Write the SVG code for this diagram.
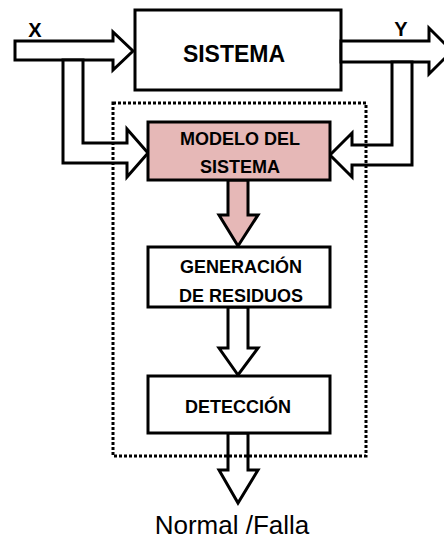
<svg xmlns="http://www.w3.org/2000/svg" width="444" height="539" viewBox="0 0 444 539">
<style>
.box{fill:#fff;stroke:#000;stroke-width:3}
.pink{fill:#E6B8B7}
.arr{fill:#fff;stroke:#000;stroke-width:3;stroke-linejoin:miter}
.parr{fill:#E6B8B7;stroke:#000;stroke-width:3;stroke-linejoin:miter}
.t{font-family:"Liberation Sans",Arial,sans-serif;font-weight:bold;fill:#000;text-anchor:middle}
.dot{fill:none;stroke:#000;stroke-width:3;stroke-dasharray:3,2}
</style>
<rect width="444" height="539" fill="#fff"/>
<g id="sistema">
<rect class="box" x="135" y="10" width="206" height="80"/>
<text class="t" x="234" y="62" font-size="23">SISTEMA</text>
</g>
<g id="connectors">
<polygon class="arr" points="15,41 113,41 113,32 133,51 113,70 113,60 15,60"/>
<polygon class="arr" points="63,60 63,163 127,163 127,177 148,153 127,129 127,143 83,143 83,60"/>
<polygon class="arr" points="341,41 429,41 429,28 452,51 429,74 429,62 341,62"/>
<polygon class="arr" points="392,62 392,145 352,145 352,133 330,155 352,177 352,165 412,165 412,62"/>
<polygon class="parr" points="228,180 228,215 219,215 238,246 258,215 248,215 248,180"/>
<polygon class="arr" points="228,307 228,348 219,348 238,375 258,348 248,348 248,307"/>
<polygon class="arr" points="228,433 228,470 219,470 238,503 258,470 248,470 248,433"/>
</g>
<g id="modelo">
<rect class="box pink" x="148" y="122" width="182" height="58"/>
<text class="t" x="240" y="145" font-size="18">MODELO DEL</text>
<text class="t" x="240" y="173" font-size="18">SISTEMA</text>
</g>
<g id="generacion">
<rect class="box" x="148" y="247" width="182" height="60"/>
<text class="t" x="241" y="273" font-size="18">GENERACIÓN</text>
<text class="t" x="241" y="302" font-size="18">DE RESIDUOS</text>
</g>
<g id="deteccion">
<rect class="box" x="148" y="376" width="182" height="57"/>
<text class="t" x="238" y="413" font-size="18">DETECCIÓN</text>
</g>
<g id="frontera">
<rect class="dot" x="113" y="103" width="253" height="353"/>
</g>
<g id="labels">
<text class="t" x="35" y="37" font-size="20">X</text>
<text class="t" x="401" y="36" font-size="20">Y</text>
<text x="232" y="534" font-size="26" font-family="Liberation Sans, Arial, sans-serif" text-anchor="middle" fill="#000">Normal /Falla</text>
</g>
</svg>
